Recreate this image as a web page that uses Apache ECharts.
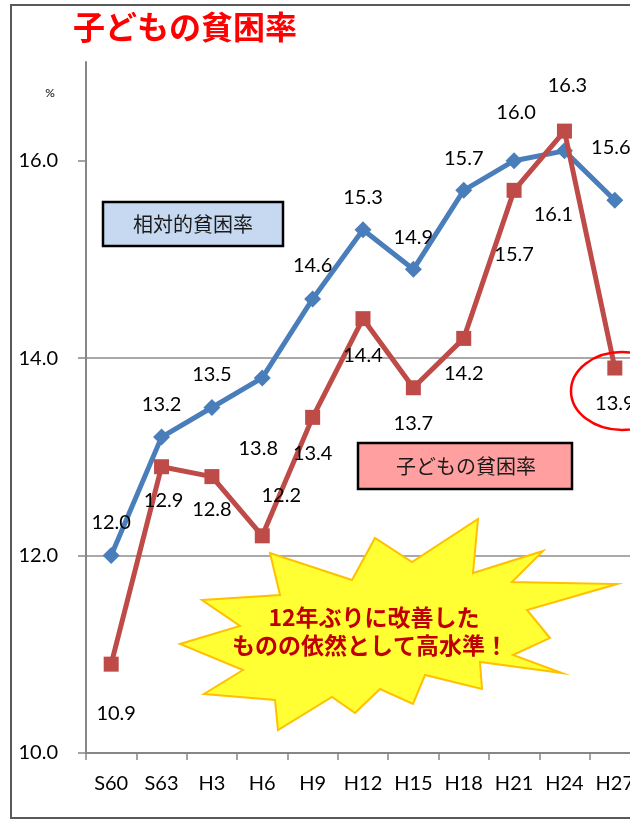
<!DOCTYPE html>
<html>
<head>
<meta charset="utf-8">
<script src="https://cdn.jsdelivr.net/npm/echarts@6/dist/echarts.min.js"></script>
<style>
  html, body { margin: 0; padding: 0; background: #fff; }
  #chart { width: 630px; height: 821px; }
</style>
</head>
<body>
<div id="chart"></div>
<script>
// 年次
var years = ['S60', 'S63', 'H3', 'H6', 'H9', 'H12', 'H15', 'H18', 'H21', 'H24', 'H27'];
// 相対的貧困率 (%)
var relativeRate = [12.0, 13.2, 13.5, 13.8, 14.6, 15.3, 14.9, 15.7, 16.0, 16.1, 15.6];
// 子どもの貧困率 (%)
var childRate = [10.9, 12.9, 12.8, 12.2, 13.4, 14.4, 13.7, 14.2, 15.7, 16.3, 13.9];
var yTicks = [10, 12, 14, 16];

// ラベル位置 (点からのずれ px)
var relOffsets = [[0,-33],[0,-33],[0,-33],[-4,71],[0,-33],[0,-32],[0,-32],[0,-32],[2,-48],[-11,64],[-4,-53]];
var childOffsets = [[5,49],[2,34],[0,33],[19,-40],[0,36],[0,37],[0,36],[0,35],[0,64],[3,-46],[0,36]];

var numFont = 'Lato, "Noto Sans", sans-serif';
var jpFont = '"Noto Sans CJK JP", sans-serif';

function makeData(values, offsets) {
  var out = [];
  for (var i = 0; i < values.length; i++) {
    out.push({ value: values[i], label: { offset: offsets[i] } });
  }
  return out;
}

var myChart = echarts.init(document.getElementById('chart'));

var option = {
  animation: false,
  grid: { left: 86, top: 62, width: 554, bottom: 68, containLabel: false, outerBoundsMode: 'none' },
  xAxis: {
    type: 'category',
    data: years,
    boundaryGap: true,
    axisLine: { lineStyle: { color: '#868686', width: 2 } },
    axisTick: { show: true, length: 7, lineStyle: { color: '#868686', width: 1.5 } },
    axisLabel: { color: '#000', fontSize: 20, fontFamily: numFont, margin: 21, interval: 0 }
  },
  yAxis: {
    type: 'value',
    min: 10,
    max: 17,
    interval: 2,
    axisLine: { show: true, lineStyle: { color: '#868686', width: 2 } },
    axisTick: { show: true, length: 8, customValues: yTicks, lineStyle: { color: '#868686', width: 1.5 } },
    axisLabel: {
      color: '#000', fontSize: 20, fontFamily: numFont, margin: 28,
      customValues: yTicks,
      formatter: function (v) { return v.toFixed(1); }
    },
    splitLine: { show: true, showMinLine: false, showMaxLine: false, lineStyle: { color: '#8c8c8c', width: 1.5 } }
  },
  series: [
    {
      name: '相対的貧困率',
      type: 'line',
      data: makeData(relativeRate, relOffsets),
      symbol: 'diamond',
      symbolSize: 17,
      lineStyle: { color: '#4A7EBB', width: 5 },
      itemStyle: { color: '#4A7EBB' },
      label: {
        show: true, position: 'inside', color: '#000', fontSize: 20, fontFamily: numFont,
        formatter: function (p) { return p.value.toFixed(1); }
      },
      z: 3
    },
    {
      name: '子どもの貧困率',
      type: 'line',
      data: makeData(childRate, childOffsets),
      symbol: 'rect',
      symbolSize: 15,
      lineStyle: { color: '#BE4B48', width: 5 },
      itemStyle: { color: '#BE4B48' },
      label: {
        show: true, position: 'inside', color: '#000', fontSize: 20, fontFamily: numFont,
        formatter: function (p) { return p.value.toFixed(1); }
      },
      z: 4
    }
  ],
  graphic: [
    // 外枠
    { type: 'rect', shape: { x: 11, y: 5, width: 700, height: 813 },
      style: { fill: 'none', stroke: '#595959', lineWidth: 2 }, z: 1, silent: true },
    // タイトル
    { type: 'text', left: 73, top: 11,
      style: { text: '子どもの貧困率', fill: '#FF0000', font: 'bold 32px ' + jpFont }, z: 10 },
    { type: 'text', x: 50, y: 93,
      style: { text: '%', fill: '#000', font: '12px ' + numFont, align: 'center', verticalAlign: 'middle' }, z: 10 },
    // 凡例ボックス
    { type: 'rect', shape: { x: 103, y: 202, width: 180, height: 44 },
      style: { fill: '#C6D9F1', stroke: '#000', lineWidth: 2.5 }, z: 10 },
    { type: 'text', x: 193, y: 224,
      style: { text: '相対的貧困率', fill: '#1a1a1a', font: '20px ' + jpFont, align: 'center', verticalAlign: 'middle' }, z: 11 },
    { type: 'rect', shape: { x: 358, y: 443, width: 214, height: 46 },
      style: { fill: '#FF9F9F', stroke: '#000', lineWidth: 2.5 }, z: 10 },
    { type: 'text', x: 466, y: 466,
      style: { text: '子どもの貧困率', fill: '#1a1a1a', font: '20px ' + jpFont, align: 'center', verticalAlign: 'middle' }, z: 11 },
    // 吹き出し
    { type: 'polygon',
      shape: { points: [[202,600],[280,595],[270,553],[352,580],[375,538],[412,562],[478,519],[473,573],[543,551],[512,582],[617,584],[527,610],[550,638],[513,655],[562,673],[480,662],[482,689],[425,675],[413,704],[380,689],[355,713],[332,697],[278,730],[275,700],[204,694],[243,670],[180,644],[240,626]] },
      style: { fill: '#FFFF33', stroke: '#FFC000', lineWidth: 2 }, z: 20 },
    { type: 'text', x: 374, y: 617,
      style: { text: '12年ぶりに改善した', fill: '#C00000', font: 'bold 23px ' + jpFont, align: 'center', verticalAlign: 'middle' }, z: 21 },
    { type: 'text', x: 370, y: 645,
      style: { text: 'ものの依然として高水準！', fill: '#C00000', font: 'bold 23px ' + jpFont, align: 'center', verticalAlign: 'middle' }, z: 21 },
    // 丸印
    { type: 'ellipse', shape: { cx: 622, cy: 391, rx: 51, ry: 39 },
      style: { fill: 'none', stroke: '#FF0000', lineWidth: 2.5 }, z: 30 }
  ]
};

myChart.setOption(option);
</script>
</body>
</html>
